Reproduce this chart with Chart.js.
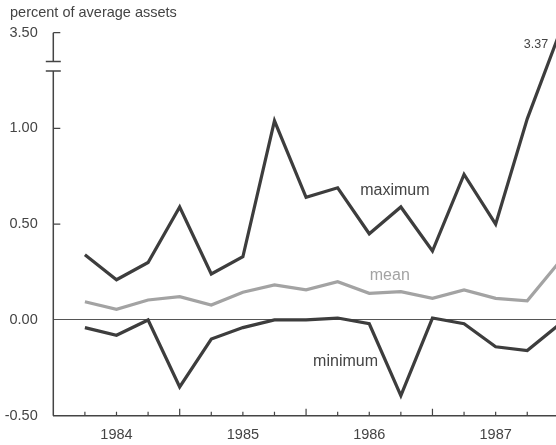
<!DOCTYPE html>
<html>
<head>
<meta charset="utf-8">
<title>percent of average assets</title>
<script src="https://cdn.jsdelivr.net/npm/chart.js@4.4.1/dist/chart.umd.min.js"></script>
<style>
    html, body { margin: 0; padding: 0; background: #ffffff; }
    #wrap { width: 556px; height: 445px; position: relative; }
</style>
</head>
<body>
<div id="wrap"><canvas id="assetsChart"></canvas></div>
<script>
// Quarterly data, 1984:Q1 - 1987:Q4 (percent of average assets)
const quarters = ['1984Q1', '1984Q2', '1984Q3', '1984Q4',
                  '1985Q1', '1985Q2', '1985Q3', '1985Q4',
                  '1986Q1', '1986Q2', '1986Q3', '1986Q4',
                  '1987Q1', '1987Q2', '1987Q3', '1987Q4'];
const maxValues  = [0.34, 0.21, 0.30, 0.59, 0.24, 0.33, 1.04, 0.64, 0.69, 0.45, 0.59, 0.36, 0.76, 0.50, 1.05, 3.37];
const meanValues = [0.095, 0.056, 0.104, 0.122, 0.078, 0.145, 0.183, 0.157, 0.20, 0.139, 0.148, 0.113, 0.157, 0.113, 0.10, 0.30];
const minValues  = [-0.04, -0.08, 0.00, -0.35, -0.10, -0.04, 0.00, 0.00, 0.01, -0.02, -0.395, 0.01, -0.02, -0.14, -0.16, -0.025];

// Axis ticks
const yearLabels = ['1984', '1985', '1986', '1987'];
const yearTickPositions = [2, 6, 10, 14];     // quarter index under each year label
const yTickValues = [-0.5, 0, 0.5, 1.0, 3.5];
const yTickLabels = ['-0.50', '0.00', '0.50', '1.00', '3.50'];

// Axis break: everything above the break is squeezed into the top of the axis
const BREAK_LOW = 1.30;
const BREAK_HIGH = 1.35;
const UPPER_TOP = 3.50;
const UPPER_SQUEEZE = 0.09;

function toDisplay(v) {
    if (v <= BREAK_LOW) return v;
    return 1.50 - (UPPER_TOP - v) * UPPER_SQUEEZE;
}

function toPoints(values) {
    return values.map((v, i) => ({ x: i + 1, y: toDisplay(v) }));
}

const FONT = '"Liberation Sans", Arial, Helvetica, sans-serif';
const DARK = '#3d3d3d';
const LIGHT = '#a3a3a3';
const TEXT = '#444444';

// Line labels written on the plot (x in quarters, y in axis units)
const notes = [
    { text: 'maximum', x: 10.81, y: 0.675, color: TEXT, size: 16, align: 'center' },
    { text: 'mean', x: 10.65, y: 0.23, color: LIGHT, size: 16, align: 'center' },
    { text: 'minimum', x: 9.25, y: -0.218, color: TEXT, size: 16, align: 'center' },
    { text: '3.37', x: 15.66, y: 1.436, color: TEXT, size: 12.5, align: 'right' }
];

// Draws the broken y axis, inward tick marks and the text on the plot
const decorations = {
    id: 'decorations',
    afterDraw(chart) {
        const ctx = chart.ctx;
        const xs = chart.scales.x;
        const ys = chart.scales.y;
        const left = chart.chartArea.left;
        const bottom = chart.chartArea.bottom;

        ctx.save();
        ctx.strokeStyle = TEXT;
        ctx.lineWidth = 1.5;

        // y axis in two pieces with break caps
        const yLow = ys.getPixelForValue(BREAK_LOW);
        const yHigh = ys.getPixelForValue(BREAK_HIGH);
        ctx.beginPath();
        ctx.moveTo(left, bottom);
        ctx.lineTo(left, yLow);
        ctx.moveTo(left, yHigh);
        ctx.lineTo(left, ys.getPixelForValue(toDisplay(UPPER_TOP)));
        ctx.moveTo(left - 7.5, yLow);
        ctx.lineTo(left + 7.5, yLow);
        ctx.moveTo(left - 7.5, yHigh);
        ctx.lineTo(left + 7.5, yHigh);
        ctx.stroke();

        // y ticks pointing into the plot
        ctx.lineWidth = 1.2;
        ctx.beginPath();
        yTickValues.forEach(v => {
            if (v === 0 || v === -0.5) return;
            const py = ys.getPixelForValue(toDisplay(v));
            ctx.moveTo(left, py);
            ctx.lineTo(left + 7, py);
        });
        ctx.stroke();

        // x ticks at every quarter, taller at year ends
        ctx.beginPath();
        for (let q = 1; q <= quarters.length; q++) {
            const px = xs.getPixelForValue(q);
            if (px > chart.chartArea.right) break;
            const len = q % 4 === 0 ? 7 : 4;
            ctx.moveTo(px, bottom);
            ctx.lineTo(px, bottom - len);
        }
        ctx.stroke();

        // text on the plot
        ctx.textBaseline = 'middle';
        notes.forEach(n => {
            ctx.font = n.size + 'px ' + FONT;
            ctx.fillStyle = n.color;
            ctx.textAlign = n.align;
            ctx.fillText(n.text, xs.getPixelForValue(n.x), ys.getPixelForValue(n.y));
        });

        // units caption
        ctx.font = '14.5px ' + FONT;
        ctx.fillStyle = TEXT;
        ctx.textAlign = 'left';
        ctx.fillText('percent of average assets', 10, 12.5);
        ctx.restore();
    }
};

function lineSet(label, values, color) {
    return {
        label: label,
        data: toPoints(values),
        borderColor: color,
        borderWidth: 3.2,
        pointRadius: 0,
        tension: 0,
        fill: false,
        clip: false
    };
}

function renderChart() {
    const ctx = document.getElementById('assetsChart').getContext('2d');
    new Chart(ctx, {
        type: 'line',
        data: {
            datasets: [
                lineSet('mean', meanValues, LIGHT),
                lineSet('minimum', minValues, DARK),
                lineSet('maximum', maxValues, DARK)
            ]
        },
        options: {
            responsive: true,
            maintainAspectRatio: false,
            animation: false,
            layout: { padding: { top: 32.7, right: 0, left: 0, bottom: 0 } },
            plugins: {
                legend: { display: false },
                tooltip: { enabled: false }
            },
            scales: {
                x: {
                    type: 'linear',
                    min: 0,
                    max: 15.91,
                    afterBuildTicks: scale => {
                        scale.ticks = yearTickPositions.map(v => ({ value: v }));
                    },
                    afterFit: scale => { scale.height = 29.3; },
                    grid: { display: false, drawTicks: false },
                    border: { display: true, color: TEXT, width: 1.5 },
                    ticks: {
                        autoSkip: false,
                        maxRotation: 0,
                        padding: 11,
                        color: TEXT,
                        font: { family: FONT, size: 14.5 },
                        callback: (value, index) => yearLabels[index]
                    }
                },
                y: {
                    type: 'linear',
                    min: -0.5,
                    max: 1.5,
                    afterBuildTicks: scale => {
                        scale.ticks = yTickValues.map(v => ({ value: toDisplay(v) }));
                    },
                    afterFit: scale => { scale.width = 53.3; },
                    grid: {
                        drawTicks: false,
                        lineWidth: 1,
                        color: c => (c.tick && c.tick.value === 0) ? '#555555' : 'rgba(0,0,0,0)'
                    },
                    border: { display: false },
                    ticks: {
                        padding: 15.6,
                        color: TEXT,
                        font: { family: FONT, size: 14.5 },
                        callback: (value, index) => yTickLabels[index]
                    }
                }
            }
        },
        plugins: [decorations]
    });
}

window.onload = function() {
    renderChart();
};
</script>
</body>
</html>
